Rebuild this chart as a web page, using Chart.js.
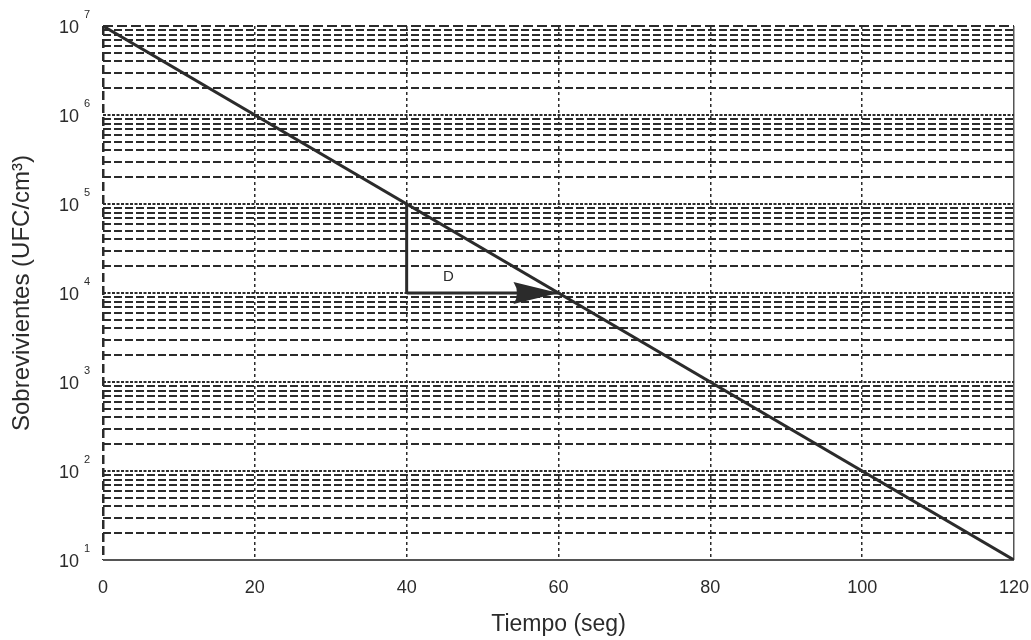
<!DOCTYPE html>
<html>
<head>
<meta charset="utf-8">
<script src="https://cdn.jsdelivr.net/npm/chart.js@4.4.1/dist/chart.umd.min.js"></script>
<style>
  html, body { margin: 0; padding: 0; background: #fff; }
</style>
</head>
<body>
<canvas id="survivalChart" width="1031" height="640"></canvas>
<script>
// datos del gráfico
const xTickValues = [0, 20, 40, 60, 80, 100, 120];
const yExponents = [1, 2, 3, 4, 5, 6, 7];
const curveX = [0, 120];
const curveY = [1e7, 10];
const stemX = [40, 40];
const stemY = [1e5, 1e4];
const arrowX = [40, 60];
const arrowY = [1e4, 1e4];
const labelD = ["D", 45.5, 1.5e4];

const ink = "#2b2b2b";

// valores de la rejilla logarítmica: 1..9 x 10^n
const yGridValues = [];
yExponents.forEach((e) => {
    if (e === 7) { yGridValues.push(1e7); return; }
    for (let m = 1; m <= 9; m++) yGridValues.push(m * Math.pow(10, e));
});

const toPoints = (xs, ys) => xs.map((x, i) => ({ x: x, y: ys[i] }));

const isDecade = (v) => Math.abs(Math.log10(v) - Math.round(Math.log10(v))) < 1e-9;

// etiquetas 10^n, flecha y letra D
const annotations = {
    id: "annotations",
    afterDatasetsDraw(chart) {
        const ctx = chart.ctx;
        const xs = chart.scales.x;
        const ys = chart.scales.y;
        ctx.save();
        ctx.fillStyle = ink;

        // punta de flecha
        const tipX = xs.getPixelForValue(arrowX[1]);
        const tipY = ys.getPixelForValue(arrowY[1]);
        ctx.beginPath();
        ctx.moveTo(tipX, tipY);
        ctx.lineTo(tipX - 45, tipY - 11);
        ctx.quadraticCurveTo(tipX - 38, tipY, tipX - 45, tipY + 11);
        ctx.closePath();
        ctx.fill();

        // letra D
        ctx.font = "15px 'Liberation Sans', Arial, sans-serif";
        ctx.textAlign = "center";
        ctx.textBaseline = "middle";
        ctx.fillText(labelD[0], xs.getPixelForValue(labelD[1]), ys.getPixelForValue(labelD[2]));

        // etiquetas del eje y
        yExponents.forEach((e) => {
            const py = ys.getPixelForValue(Math.pow(10, e));
            ctx.font = "18px 'Liberation Sans', Arial, sans-serif";
            ctx.textAlign = "right";
            ctx.textBaseline = "middle";
            ctx.fillText("10", 79, py + 2);
            ctx.font = "11px 'Liberation Sans', Arial, sans-serif";
            ctx.textAlign = "left";
            ctx.fillText(String(e), 84, py - 11);
        });
        ctx.restore();
    }
};

const lineStyle = {
    borderColor: ink,
    borderWidth: 3,
    pointRadius: 0,
    showLine: true,
    fill: false,
    tension: 0,
};

new Chart(document.getElementById("survivalChart").getContext("2d"), {
    type: "scatter",
    plugins: [annotations],
    data: {
        datasets: [
            Object.assign({ label: "curva", data: toPoints(curveX, curveY) }, lineStyle),
            Object.assign({ label: "D vertical", data: toPoints(stemX, stemY) }, lineStyle),
            Object.assign({ label: "D flecha", data: toPoints(arrowX, arrowY) }, lineStyle),
        ],
    },
    options: {
        responsive: false,
        animation: false,
        devicePixelRatio: 1,
        layout: { padding: { top: 26, right: 0, left: 0, bottom: 0 } },
        plugins: {
            legend: { display: false },
            tooltip: { enabled: false },
        },
        scales: {
            x: {
                type: "linear",
                min: 0,
                max: 120,
                afterBuildTicks: (scale) => {
                    scale.ticks = xTickValues.map((v) => ({ value: v }));
                },
                afterFit: (scale) => {
                    scale.height = 80;
                    scale.paddingRight = 17;
                },
                ticks: {
                    color: ink,
                    padding: 17,
                    autoSkip: false,
                    maxRotation: 0,
                    font: { size: 18, family: "'Liberation Sans', Arial, sans-serif" },
                },
                grid: {
                    drawTicks: false,
                    color: (c) => (c.tick && c.tick.value === 120 ? "#555" : ink),
                    lineWidth: (c) => (c.tick && c.tick.value === 0 ? 2.5 : 1.5),
                },
                border: {
                    display: false,
                    dash: (c) => {
                        if (!c.tick) return [];
                        if (c.tick.value === 0) return [9, 4];
                        if (c.tick.value === 120) return [];
                        return [3, 3];
                    },
                },
                title: {
                    display: true,
                    text: "Tiempo (seg)",
                    color: ink,
                    padding: { top: 0, bottom: 2 },
                    font: { size: 23, family: "'Liberation Sans', Arial, sans-serif" },
                },
            },
            y: {
                type: "logarithmic",
                min: 10,
                max: 1e7,
                afterBuildTicks: (scale) => {
                    scale.ticks = yGridValues.map((v) => ({ value: v }));
                },
                afterFit: (scale) => { scale.width = 103; },
                ticks: { display: false, autoSkip: false },
                grid: {
                    drawTicks: false,
                    color: (c) => (c.tick && c.tick.value === 10 ? "#555" : ink),
                    lineWidth: 2,
                },
                border: {
                    display: false,
                    dash: (c) => {
                        if (!c.tick) return [];
                        const v = c.tick.value;
                        if (v === 10) return [];
                        if (v === 1e7) return [10, 4];
                        return isDecade(v) ? [3, 1.5] : [8, 3];
                    },
                },
                title: {
                    display: true,
                    text: "Sobrevivientes (UFC/cm³)",
                    color: ink,
                    padding: { top: 8, bottom: 0 },
                    font: { size: 24, family: "'Liberation Sans', Arial, sans-serif" },
                },
            },
        },
    },
});
</script>
</body>
</html>
